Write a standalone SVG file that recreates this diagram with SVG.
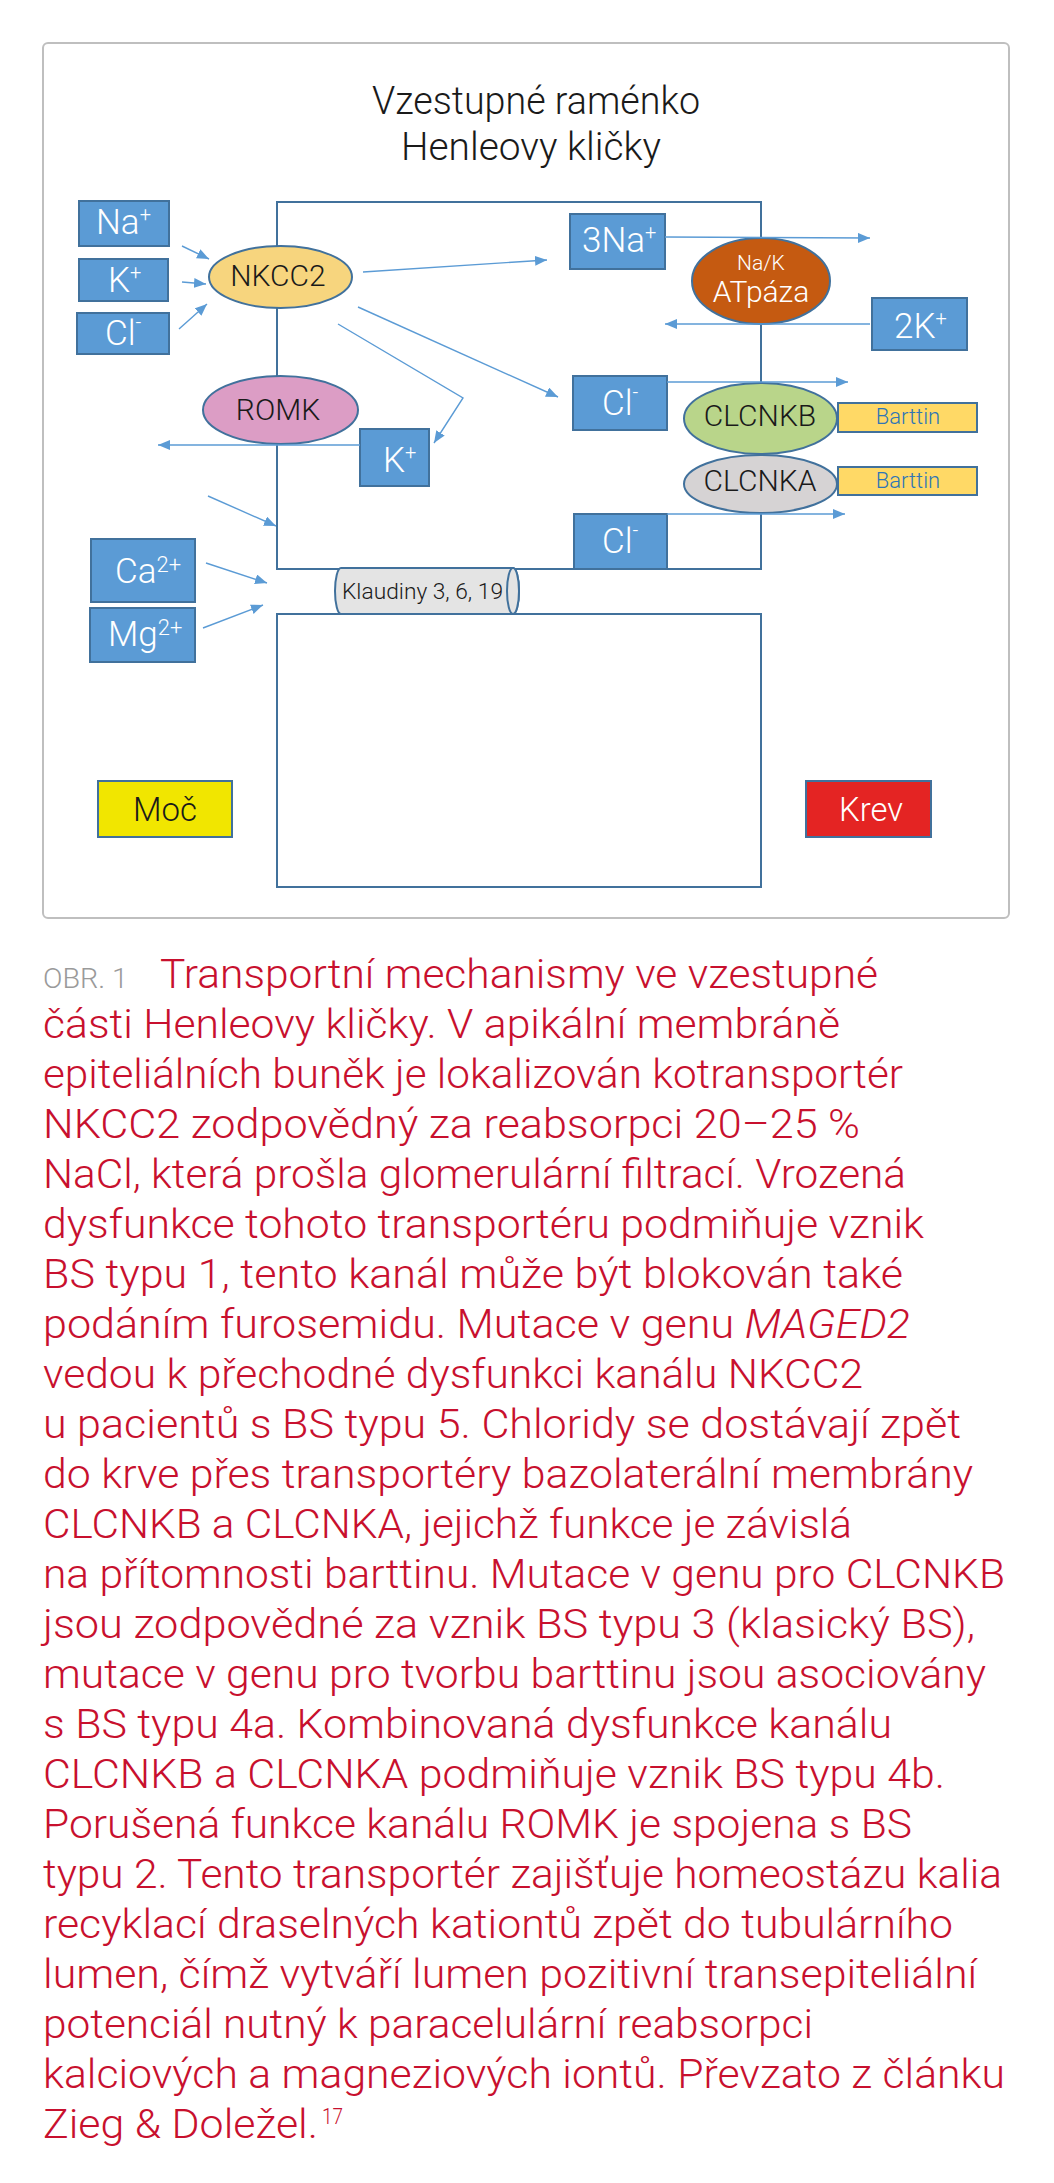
<svg xmlns="http://www.w3.org/2000/svg" width="1054" height="2183" viewBox="0 0 1054 2183">
<defs>
<marker id="ah" viewBox="0 0 12 10" refX="12" refY="5" markerWidth="12" markerHeight="10" markerUnits="userSpaceOnUse" orient="auto">
<path d="M0,0 L12,5 L0,10 Z" fill="#5B9BD5"/>
</marker>
<style>
.frame{fill:#fff;stroke:#BFBFBF;stroke-width:2}
.mem{fill:none;stroke:#41719C;stroke-width:2}
.box{fill:#5B9BD5;stroke:#41719C;stroke-width:2}
.ell{stroke:#41719C;stroke-width:2}
.lbl{font-family:Roboto,"Liberation Sans",sans-serif;font-weight:300;fill:#fff;font-size:35px}
.sup{font-size:20px}
.sup2{font-size:22px}
.dark{font-family:Roboto,"Liberation Sans",sans-serif;font-weight:300;fill:#1a1a1a}
.bt{fill:#FFD966;stroke:#41719C;stroke-width:2}
.btt{font-family:Roboto,"Liberation Sans",sans-serif;font-weight:300;fill:#2E75B6;font-size:22px}
.conn{stroke:#5B9BD5;stroke-width:1.4;fill:none;marker-end:url(#ah)}
.cap{font-family:Roboto,"Liberation Sans",sans-serif;font-weight:300;fill:#C8102E;font-size:40px}
.title{font-family:Roboto,"Liberation Sans",sans-serif;font-weight:300;fill:#1a1a1a;font-size:38px}
</style>
</defs>
<rect class="frame" x="43" y="43" width="966" height="875" rx="5"/>
<g id="title">
<text class="title" x="536" y="114" text-anchor="middle" textLength="328" lengthAdjust="spacingAndGlyphs">Vzestupné raménko</text>
<text class="title" x="531" y="160" text-anchor="middle" textLength="260" lengthAdjust="spacingAndGlyphs">Henleovy kličky</text>
</g>
<g id="membranes">
<rect class="mem" x="277" y="202" width="484" height="367"/>
<rect class="mem" x="277" y="614" width="484" height="273"/>
</g>
<g id="na"><rect class="box" x="79" y="201" width="90" height="45"/><text class="lbl" x="96" y="234">Na<tspan class="sup" dy="-13">+</tspan></text></g>
<g id="k1"><rect class="box" x="79" y="259" width="89" height="42"/><text class="lbl" x="108" y="292">K<tspan class="sup" dy="-13">+</tspan></text></g>
<g id="cl0"><rect class="box" x="77" y="313" width="92" height="41"/><text class="lbl" x="105" y="345">Cl<tspan class="sup" dy="-16">-</tspan></text></g>
<g id="nkcc2"><ellipse class="ell" cx="280.5" cy="277" rx="71.5" ry="31" fill="#F7D57E"/><text class="dark" x="278" y="286" style="font-size:30px" text-anchor="middle">NKCC2</text></g>
<g id="romk"><ellipse class="ell" cx="280.5" cy="410" rx="77.5" ry="34" fill="#DC9DC5"/><text class="dark" x="278" y="420" style="font-size:30px" text-anchor="middle">ROMK</text></g>
<g id="k2"><rect class="box" x="360" y="429" width="69" height="57"/><text class="lbl" x="383" y="472">K<tspan class="sup" dy="-13">+</tspan></text></g>
<g id="na3"><rect class="box" x="570" y="214" width="95" height="55"/><text class="lbl" x="582" y="252">3Na<tspan class="sup" dy="-13">+</tspan></text></g>
<g id="atpase"><ellipse class="ell" cx="761" cy="281" rx="69" ry="43" fill="#C55A11"/><text class="lbl" x="761" y="270" style="font-size:21px" text-anchor="middle">Na/K</text><text class="lbl" x="761" y="302" style="font-size:30px" text-anchor="middle">ATpáza</text></g>
<g id="k2plus"><rect class="box" x="872" y="298" width="95" height="52"/><text class="lbl" x="894" y="338">2K<tspan class="sup" dy="-13">+</tspan></text></g>
<g id="cl1"><rect class="box" x="573" y="376" width="94" height="54"/><text class="lbl" x="602" y="415">Cl<tspan class="sup" dy="-16">-</tspan></text></g>
<g id="clcnkb"><ellipse class="ell" cx="760.5" cy="418.5" rx="76.5" ry="35.5" fill="#B9D58A"/><text class="dark" x="760" y="426" style="font-size:30px" text-anchor="middle">CLCNKB</text></g>
<g id="barttin1"><rect class="bt" x="838" y="403" width="139" height="29"/><text class="btt" x="908" y="424" text-anchor="middle">Barttin</text></g>
<g id="clcnka"><ellipse class="ell" cx="760.5" cy="484" rx="76.5" ry="29" fill="#D6D3D4"/><text class="dark" x="760" y="491" style="font-size:30px" text-anchor="middle">CLCNKA</text></g>
<g id="barttin2"><rect class="bt" x="838" y="467" width="139" height="28"/><text class="btt" x="908" y="488" text-anchor="middle">Barttin</text></g>
<g id="cl2"><rect class="box" x="574" y="514" width="93" height="55"/><text class="lbl" x="602" y="553">Cl<tspan class="sup" dy="-16">-</tspan></text></g>
<g id="ca"><rect class="box" x="91" y="539" width="104" height="63"/><text class="lbl" x="115" y="583">Ca<tspan class="sup2" dy="-11">2+</tspan></text></g>
<g id="mg"><rect class="box" x="90" y="608" width="105" height="54"/><text class="lbl" x="108" y="646">Mg<tspan class="sup2" dy="-11">2+</tspan></text></g>
<g id="klaudiny">
<path d="M341,568 L513,568 A6,23 0 0 1 513,614 L341,614 A6,23 0 0 1 341,568 Z" fill="#E4E4E4" stroke="#41719C" stroke-width="2"/>
<ellipse cx="513" cy="591" rx="6" ry="23" fill="#E4E4E4" stroke="#41719C" stroke-width="2"/>
<text class="dark" x="342" y="599" style="font-size:22px" textLength="161" lengthAdjust="spacingAndGlyphs">Klaudiny 3, 6, 19</text>
</g>
<g id="moc"><rect x="98" y="781" width="134" height="56" fill="#F1E600" stroke="#41719C" stroke-width="2"/><text class="dark" x="165" y="821" style="font-size:34px" text-anchor="middle" textLength="64" lengthAdjust="spacingAndGlyphs">Moč</text></g>
<g id="krev"><rect x="806" y="781" width="125" height="56" fill="#E42423" stroke="#41719C" stroke-width="2"/><text class="lbl" x="871" y="821" style="font-size:34px" text-anchor="middle" textLength="64" lengthAdjust="spacingAndGlyphs">Krev</text></g>
<g id="connectors">
<line class="conn" x1="182" y1="246" x2="209" y2="259"/>
<line class="conn" x1="182" y1="282" x2="206" y2="284"/>
<line class="conn" x1="179" y1="329" x2="207" y2="304"/>
<line class="conn" x1="363" y1="272" x2="547" y2="260"/>
<line class="conn" x1="358" y1="307" x2="558" y2="397"/>
<polyline class="conn" points="338,324 463,398 434,443"/>
<line class="conn" x1="665" y1="237" x2="870" y2="238"/>
<line class="conn" x1="870" y1="324" x2="665" y2="324"/>
<line class="conn" x1="667" y1="382" x2="848" y2="382"/>
<line class="conn" x1="667" y1="514" x2="845" y2="514"/>
<line class="conn" x1="360" y1="445" x2="158" y2="445"/>
<line class="conn" x1="208" y1="496" x2="276" y2="526"/>
<line class="conn" x1="206" y1="563" x2="267" y2="583"/>
<line class="conn" x1="203" y1="628" x2="263" y2="605"/>
</g>
<g id="caption">
<text x="43" y="988" font-family="Roboto,'Liberation Sans',sans-serif" font-weight="300" font-size="28" fill="#9A9A9A" textLength="85" lengthAdjust="spacingAndGlyphs">OBR. 1</text>
<text class="cap" x="160" y="988" textLength="718" lengthAdjust="spacingAndGlyphs">Transportní mechanismy ve vzestupné</text>
<text class="cap" x="43" y="1038" textLength="797" lengthAdjust="spacingAndGlyphs">části Henleovy kličky. V apikální membráně</text>
<text class="cap" x="43" y="1088" textLength="860" lengthAdjust="spacingAndGlyphs">epiteliálních buněk je lokalizován kotransportér</text>
<text class="cap" x="43" y="1138" textLength="817" lengthAdjust="spacingAndGlyphs">NKCC2 zodpovědný za reabsorpci 20–25 %</text>
<text class="cap" x="43" y="1188" textLength="863" lengthAdjust="spacingAndGlyphs">NaCl, která prošla glomerulární filtrací. Vrozená</text>
<text class="cap" x="43" y="1238" textLength="881" lengthAdjust="spacingAndGlyphs">dysfunkce tohoto transportéru podmiňuje vznik</text>
<text class="cap" x="43" y="1288" textLength="860" lengthAdjust="spacingAndGlyphs">BS typu 1, tento kanál může být blokován také</text>
<text class="cap" x="43" y="1338" textLength="867" lengthAdjust="spacingAndGlyphs">podáním furosemidu. Mutace v genu <tspan font-style="italic">MAGED2</tspan></text>
<text class="cap" x="43" y="1388" textLength="820" lengthAdjust="spacingAndGlyphs">vedou k přechodné dysfunkci kanálu NKCC2</text>
<text class="cap" x="43" y="1438" textLength="918" lengthAdjust="spacingAndGlyphs">u pacientů s BS typu 5. Chloridy se dostávají zpět</text>
<text class="cap" x="43" y="1488" textLength="930" lengthAdjust="spacingAndGlyphs">do krve přes transportéry bazolaterální membrány</text>
<text class="cap" x="43" y="1538" textLength="809" lengthAdjust="spacingAndGlyphs">CLCNKB a CLCNKA, jejichž funkce je závislá</text>
<text class="cap" x="43" y="1588" textLength="962" lengthAdjust="spacingAndGlyphs">na přítomnosti barttinu. Mutace v genu pro CLCNKB</text>
<text class="cap" x="43" y="1638" textLength="932" lengthAdjust="spacingAndGlyphs">jsou zodpovědné za vznik BS typu 3 (klasický BS),</text>
<text class="cap" x="43" y="1688" textLength="943" lengthAdjust="spacingAndGlyphs">mutace v genu pro tvorbu barttinu jsou asociovány</text>
<text class="cap" x="43" y="1738" textLength="849" lengthAdjust="spacingAndGlyphs">s BS typu 4a. Kombinovaná dysfunkce kanálu</text>
<text class="cap" x="43" y="1788" textLength="902" lengthAdjust="spacingAndGlyphs">CLCNKB a CLCNKA podmiňuje vznik BS typu 4b.</text>
<text class="cap" x="43" y="1838" textLength="869" lengthAdjust="spacingAndGlyphs">Porušená funkce kanálu ROMK je spojena s BS</text>
<text class="cap" x="43" y="1888" textLength="959" lengthAdjust="spacingAndGlyphs">typu 2. Tento transportér zajišťuje homeostázu kalia</text>
<text class="cap" x="43" y="1938" textLength="910" lengthAdjust="spacingAndGlyphs">recyklací draselných kationtů zpět do tubulárního</text>
<text class="cap" x="43" y="1988" textLength="934" lengthAdjust="spacingAndGlyphs">lumen, čímž vytváří lumen pozitivní transepiteliální</text>
<text class="cap" x="43" y="2038" textLength="770" lengthAdjust="spacingAndGlyphs">potenciál nutný k paracelulární reabsorpci</text>
<text class="cap" x="43" y="2088" textLength="962" lengthAdjust="spacingAndGlyphs">kalciových a magneziových iontů. Převzato z článku</text>
<text class="cap" x="43" y="2138" textLength="275" lengthAdjust="spacingAndGlyphs">Zieg &amp; Doležel.</text>
<text class="cap" x="322" y="2124" style="font-size:22px" textLength="21" lengthAdjust="spacingAndGlyphs">17</text>
</g>
</svg>
